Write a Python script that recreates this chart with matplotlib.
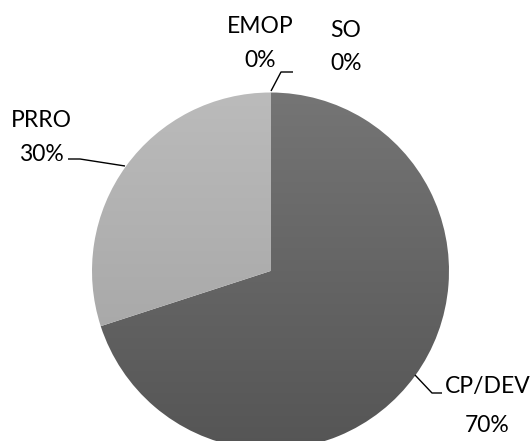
import numpy as np
import matplotlib
matplotlib.use("Agg")
import matplotlib.pyplot as plt
from matplotlib.colors import LinearSegmentedColormap

# Share of each category
categories = ["CP/DEV", "PRRO", "EMOP", "SO"]
values = [70, 30, 0, 0]
pct_labels = ["70%", "30%", "0%", "0%"]

W, H = 532, 441
fig = plt.figure(figsize=(W / 100, H / 100), dpi=100)
ax = fig.add_axes([0, 0, 1, 1])
ax.set_aspect("equal")

def py(y):
    # pixel row (from top) -> data y
    return H - y

cx, cy, r = 270.5, py(271), 178.5

wedges, _ = ax.pie(values, startangle=90, counterclock=False, radius=r,
                   center=(cx, cy), frame=True,
                   wedgeprops=dict(linewidth=0, edgecolor="none"))

# vertical shading for each slice (top colour, bottom colour)
shades = [("#757575", "#555555"), ("#bbbbbb", "#a0a0a0"), ("#999999", "#999999"), ("#999999", "#999999")]
grad = np.linspace(0, 1, 256).reshape(-1, 1)
for w, (c_top, c_bot) in zip(wedges, shades):
    w.set_facecolor("none")
    cmap = LinearSegmentedColormap.from_list("g", [c_top, c_bot])
    im = ax.imshow(grad, cmap=cmap, aspect="auto",
                   extent=(cx - r, cx + r, cy - r, cy + r), origin="upper", zorder=1)
    im.set_clip_path(w)

ax.set_xlim(0, W)
ax.set_ylim(0, H)
ax.axis("off")

font = dict(family=["Lato", "DejaVu Sans"], fontsize=16.5, color="#000000")

# label positions: (name centre x, name baseline row, pct baseline row)
label_pos = {
    "CP/DEV": (487.5, 393, 432),
    "PRRO": (41, 127, 161),
    "EMOP": (260, 33, 67),
    "SO": (346, 37, 70),
}
for cat, pct in zip(categories, pct_labels):
    x, y1, y2 = label_pos[cat]
    ax.text(x, py(y1), cat, ha="center", va="baseline", **font)
    ax.text(x, py(y2), pct, ha="center", va="baseline", **font)

# leader lines
leaders = {
    "CP/DEV": [(415, 375), (432, 393), (442, 393)],
    "PRRO": [(68, 159), (80, 159), (125, 166)],
    "EMOP": [(271, 91), (281, 72), (293, 72)],
}
for pts in leaders.values():
    xs = [p[0] for p in pts]
    ys = [py(p[1]) for p in pts]
    ax.plot(xs, ys, color="#000000", lw=1.0, zorder=3, solid_capstyle="butt")

fig.savefig("out.png", dpi=100, facecolor="white")
